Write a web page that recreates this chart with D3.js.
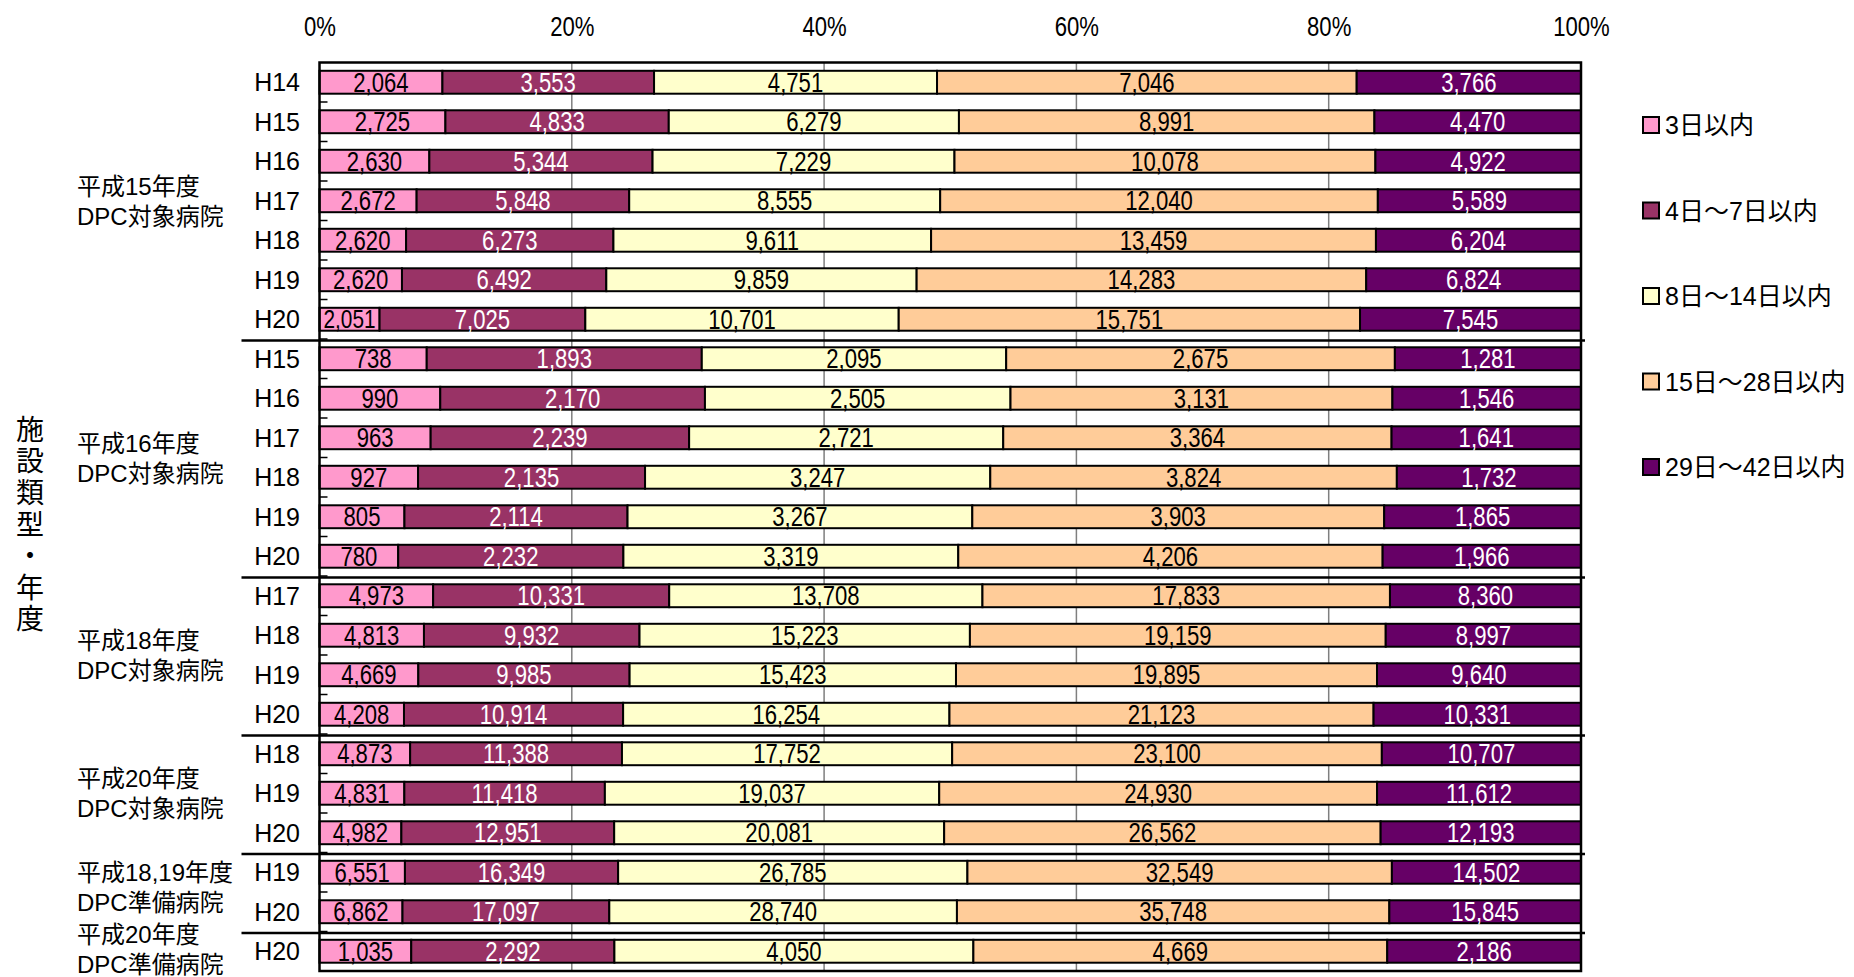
<!DOCTYPE html>
<html>
<head>
<meta charset="utf-8">
<script src="https://cdn.jsdelivr.net/npm/d3@7"></script>
<style>
  body { margin: 0; background: #fff; }
  text { font-family: "Liberation Sans", Arial, "Noto Sans CJK JP", sans-serif; }
</style>
</head>
<body>
<div id="chart"></div>
<script>
// series (length of stay buckets)
const seriesNames = ['3日以内', '4日～7日以内', '8日～14日以内', '15日～28日以内', '29日～42日以内']
const seriesColors = ['#FF99CC', '#993366', '#FFFFCC', '#FFCC99', '#660066']
const labelColors = ['#000', '#fff', '#000', '#000', '#fff']

// hospital groups and how many year rows each one has
const groupLine1 = ['平成15年度', '平成16年度', '平成18年度', '平成20年度', '平成18,19年度', '平成20年度']
const groupLine2 = ['DPC対象病院', 'DPC対象病院', 'DPC対象病院', 'DPC対象病院', 'DPC準備病院', 'DPC準備病院']
const groupSizes = [7, 6, 4, 3, 2, 1]

const years = ['H14', 'H15', 'H16', 'H17', 'H18', 'H19', 'H20',
  'H15', 'H16', 'H17', 'H18', 'H19', 'H20',
  'H17', 'H18', 'H19', 'H20',
  'H18', 'H19', 'H20',
  'H19', 'H20',
  'H20']

const within3 = [2064, 2725, 2630, 2672, 2620, 2620, 2051,
  738, 990, 963, 927, 805, 780,
  4973, 4813, 4669, 4208,
  4873, 4831, 4982,
  6551, 6862,
  1035]
const within4to7 = [3553, 4833, 5344, 5848, 6273, 6492, 7025,
  1893, 2170, 2239, 2135, 2114, 2232,
  10331, 9932, 9985, 10914,
  11388, 11418, 12951,
  16349, 17097,
  2292]
const within8to14 = [4751, 6279, 7229, 8555, 9611, 9859, 10701,
  2095, 2505, 2721, 3247, 3267, 3319,
  13708, 15223, 15423, 16254,
  17752, 19037, 20081,
  26785, 28740,
  4050]
const within15to28 = [7046, 8991, 10078, 12040, 13459, 14283, 15751,
  2675, 3131, 3364, 3824, 3903, 4206,
  17833, 19159, 19895, 21123,
  23100, 24930, 26562,
  32549, 35748,
  4669]
const within29to42 = [3766, 4470, 4922, 5589, 6204, 6824, 7545,
  1281, 1546, 1641, 1732, 1865, 1966,
  8360, 8997, 9640, 10331,
  10707, 11612, 12193,
  14502, 15845,
  2186]

const pctTicks = [0, 0.2, 0.4, 0.6, 0.8, 1]

const seriesValues = [within3, within4to7, within8to14, within15to28, within29to42]
const rows = years.map((yr, i) => {
  const r = { idx: i, year: yr }
  seriesValues.forEach((vals, k) => { r['s' + k] = vals[i] })
  return r
})
const keys = seriesNames.map((d, k) => 's' + k)

const FULL_W = 1854, FULL_H = 977
const MARGIN = { TOP: 62.5, LEFT: 319.5 }
const WIDTH = 1261.5
const HEIGHT = 23 * 39.5
const NARROW = 0.82 // condensed look of the original labels

const svg = d3.select('#chart').append('svg')
  .attr('width', FULL_W).attr('height', FULL_H)
const g = svg.append('g').attr('transform', `translate(${MARGIN.LEFT}, ${MARGIN.TOP})`)

const x = d3.scaleLinear().domain([0, 1]).range([0, WIDTH])
const y = d3.scaleBand().domain(d3.range(rows.length)).range([0, HEIGHT])
  .paddingInner(0.42).paddingOuter(0.21)
const step = y.step()

// gridlines
g.append('g').selectAll('line').data(pctTicks.slice(1, -1)).join('line')
  .attr('x1', d => x(d)).attr('x2', d => x(d))
  .attr('y1', 0).attr('y2', HEIGHT)
  .attr('stroke', '#7f7f7f').attr('stroke-width', 1.5)

// top axis
const xAxis = g.append('g')
  .call(d3.axisTop(x).tickValues(pctTicks).tickFormat(d3.format('.0%')).tickSize(0).tickPadding(27))
xAxis.select('.domain').remove()
xAxis.selectAll('text')
  .attr('font-family', '"Liberation Sans", Arial, sans-serif')
  .attr('font-size', 27).attr('fill', '#000')
  .attr('transform', `scale(${NARROW}, 1)`)

// stacked bars
const stacked = d3.stack().keys(keys).offset(d3.stackOffsetExpand)(rows)
const layers = g.append('g').selectAll('g').data(stacked).join('g')
  .attr('fill', (d, i) => seriesColors[i])

layers.selectAll('rect').data(d => d).join('rect')
  .attr('x', d => x(d[0]))
  .attr('y', d => y(d.data.idx))
  .attr('width', d => x(d[1]) - x(d[0]))
  .attr('height', y.bandwidth())
  .attr('stroke', '#000').attr('stroke-width', 2)

// value labels
stacked.forEach((layer, k) => {
  g.append('g').selectAll('text').data(layer).join('text')
    .attr('transform', d => `translate(${(x(d[0]) + x(d[1])) / 2}, ${y(d.data.idx) + y.bandwidth() / 2}) scale(${NARROW}, 1)`)
    .attr('dy', '0.36em')
    .attr('text-anchor', 'middle')
    .attr('font-size', 27)
    .attr('fill', labelColors[k])
    .text(d => d3.format(',')(d.data[layer.key]))
    .each(function (d) {
      const room = (x(d[1]) - x(d[0]) - 8) / NARROW
      const len = this.getComputedTextLength()
      if (len > room) d3.select(this).attr('font-size', 27 * room / len)
    })
})

// plot border
g.append('rect').attr('width', WIDTH).attr('height', HEIGHT)
  .attr('fill', 'none').attr('stroke', '#000').attr('stroke-width', 2.5)

// small ticks between rows
g.append('g').selectAll('line').data(d3.range(1, rows.length)).join('line')
  .attr('x1', 0).attr('x2', 8)
  .attr('y1', d => d * step).attr('y2', d => d * step)
  .attr('stroke', '#000').attr('stroke-width', 1.5)

// group separators + labels
const bounds = d3.cumsum(groupSizes)
g.append('g').selectAll('line').data(Array.from(bounds).slice(0, -1)).join('line')
  .attr('x1', -78).attr('x2', WIDTH + 4)
  .attr('y1', d => d * step + 1.5).attr('y2', d => d * step + 1.5)
  .attr('stroke', '#000').attr('stroke-width', 2.5)

// label block centers: middle of the group, kept inside the picture and apart
const centers = groupSizes.map((d, i) => ((bounds[i] - d) + bounds[i]) / 2 * step)
const maxCenter = FULL_H - MARGIN.TOP - 28
for (let i = centers.length - 1; i >= 0; i--) {
  const limit = i === centers.length - 1 ? maxCenter : centers[i + 1] - 62
  centers[i] = Math.min(centers[i], limit)
}
const groupLabels = g.append('g').selectAll('text').data(groupSizes).join('text')
  .attr('x', -242.5)
  .attr('y', (d, i) => centers[i])
  .attr('font-size', 24).attr('fill', '#000')
groupLabels.append('tspan').attr('x', -242.5).attr('dy', '-0.25em').text((d, i) => groupLine1[i])
groupLabels.append('tspan').attr('x', -242.5).attr('dy', '1.25em').text((d, i) => groupLine2[i])

// year labels
g.append('g').selectAll('text').data(rows).join('text')
  .attr('x', -19.5)
  .attr('y', d => y(d.idx) + y.bandwidth() / 2)
  .attr('dy', '0.36em')
  .attr('text-anchor', 'end')
  .attr('font-size', 25)
  .text(d => d.year)

// axis title, vertical
const title = '施設類型・年度'.split('')
svg.append('g').selectAll('text').data(title).join('text')
  .attr('x', 30)
  .attr('y', (d, i) => 430 + i * 31.6)
  .attr('dy', '0.35em')
  .attr('text-anchor', 'middle')
  .attr('font-size', 28)
  .text(d => d)

// legend
const legend = svg.append('g').attr('transform', 'translate(1643, 125)')
const items = legend.selectAll('g').data(seriesNames).join('g')
  .attr('transform', (d, i) => `translate(0, ${i * 85.5})`)
items.append('rect').attr('x', 0).attr('y', -8).attr('width', 16).attr('height', 16)
  .attr('fill', (d, i) => seriesColors[i]).attr('stroke', '#000').attr('stroke-width', 2)
items.append('text').attr('x', 22).attr('dy', '0.36em').attr('font-size', 25).text(d => d)
</script>
</body>
</html>
